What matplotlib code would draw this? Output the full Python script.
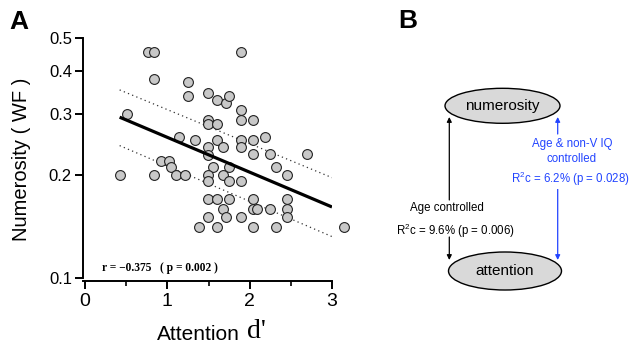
import matplotlib
matplotlib.use("Agg")
import matplotlib.pyplot as plt
from matplotlib.patches import Ellipse
from matplotlib.ticker import FixedLocator, NullLocator, MultipleLocator

plt.rcParams['font.family'] = ['Liberation Sans', 'DejaVu Sans']
plt.rcParams['mathtext.default'] = 'regular'

# ---- Panel A data ----
attention = [0.76, 0.84, 1.89, 0.84, 1.25, 1.25, 1.49, 1.60, 1.71, 1.75, 1.89, 0.51,
             1.49, 1.49, 1.60, 1.89, 2.04, 1.14, 1.34, 1.60, 1.89, 2.04, 2.19,
             1.49, 1.68, 1.89, 1.49, 2.04, 2.25, 2.70, 0.92, 1.02, 1.05, 1.56, 1.75, 2.32,
             0.42, 0.84, 1.11, 1.22, 1.49, 1.68, 2.45, 1.49, 1.75, 1.89,
             1.49, 1.60, 1.75, 2.04, 2.45, 1.68, 2.04, 2.09, 2.25, 2.45,
             1.49, 1.71, 1.89, 2.45, 1.38, 1.60, 2.04, 2.32, 3.15]
numerosity = [0.455, 0.455, 0.455, 0.38, 0.372, 0.339, 0.346, 0.331, 0.324, 0.339, 0.309, 0.301,
              0.289, 0.280, 0.281, 0.289, 0.289, 0.257, 0.252, 0.252, 0.252, 0.252, 0.257,
              0.241, 0.241, 0.241, 0.228, 0.230, 0.230, 0.230, 0.219, 0.219, 0.210, 0.210, 0.210, 0.210,
              0.200, 0.200, 0.200, 0.200, 0.200, 0.200, 0.200, 0.191, 0.191, 0.191,
              0.170, 0.170, 0.170, 0.170, 0.170, 0.159, 0.159, 0.159, 0.159, 0.159,
              0.151, 0.151, 0.151, 0.151, 0.141, 0.141, 0.141, 0.141, 0.141]
fit_x = [0.42, 3.0]
fit_y = [0.294, 0.161]
ci_upper_y = [0.353, 0.196]
ci_lower_y = [0.243, 0.132]
yticks = [0.1, 0.2, 0.3, 0.4, 0.5]
ytick_labels = ['0.1', '0.2', '0.3', '0.4', '0.5']
xticks = [0, 1, 2, 3]
stat_text = 'r = \u22120.375   ( p = 0.002 )'

# ---- Panel B texts ----
node_top = 'numerosity'
node_bottom = 'attention'
left_lines = ['Age controlled', 'R$^2$c = 9.6% (p = 0.006)']
right_lines = ['Age & non-V IQ', 'controlled', 'R$^2$c = 6.2% (p = 0.028)']

W, H = 632, 344
fig = plt.figure(figsize=(W / 100, H / 100), dpi=100)

# Panel A
ax = fig.add_axes([83 / W, 1 - 281 / H, 249 / W, 243 / H])
ax.set_yscale('log')
ax.set_xlim(-0.025, 3.0)
ax.set_ylim(0.098, 0.5)
ax.scatter(attention, numerosity, s=50, facecolor='#c8c8c8', edgecolor='#222222',
           linewidth=0.8, zorder=3, clip_on=False)
ax.plot(fit_x, fit_y, color='black', lw=2.3, zorder=4, solid_capstyle='butt')
ax.plot(fit_x, ci_upper_y, color='#333333', lw=0.9, ls=(0, (1, 2.6)), zorder=2)
ax.plot(fit_x, ci_lower_y, color='#333333', lw=0.9, ls=(0, (1, 2.6)), zorder=2)

for s in ['top', 'right']:
    ax.spines[s].set_visible(False)
for s in ['left', 'bottom']:
    ax.spines[s].set_linewidth(1.4)
ax.spines['left'].set_bounds(0.1, 0.5)
ax.yaxis.set_major_locator(FixedLocator(yticks))
ax.yaxis.set_minor_locator(NullLocator())
ax.set_yticklabels(ytick_labels)
ax.xaxis.set_major_locator(FixedLocator(xticks))
ax.xaxis.set_minor_locator(MultipleLocator(0.5))
ax.tick_params(axis='y', which='major', direction='out', length=6, width=1.4, labelsize=12, pad=2)
ax.tick_params(axis='x', which='major', direction='out', length=6, width=1.4, labelsize=14, pad=3)
ax.tick_params(axis='x', which='minor', direction='out', length=3.5, width=1.2)
ax.set_ylabel('Numerosity ( WF )', fontsize=14.5, labelpad=13)
fig.text(157 / W, 1 - 340 / H, 'Attention', fontsize=15, va='baseline', ha='left')
fig.text(247 / W, 1 - 338 / H, "d'", fontsize=20, family=['Liberation Serif'], va='baseline')
ax.text(102 / W, 1 - 271 / H, stat_text, transform=fig.transFigure, fontsize=8.3,
        family=['Liberation Serif', 'DejaVu Serif'], weight='bold', va='baseline')

fig.text(19 / W, 1 - 22 / H, 'A', fontsize=19, weight='bold', ha='center', va='center')
fig.text(408 / W, 1 - 21 / H, 'B', fontsize=19, weight='bold', ha='center', va='center')

# Panel B on pixel coordinates
bx = fig.add_axes([0, 0, 1, 1], zorder=-1)
bx.set_xlim(0, W)
bx.set_ylim(H, 0)
bx.axis('off')
bx.add_patch(Ellipse((502.5, 105.8), 115, 35, facecolor='#d9d9d9', edgecolor='black', lw=1))
bx.add_patch(Ellipse((505, 271), 113, 38, facecolor='#d9d9d9', edgecolor='black', lw=1))
bx.text(502.5, 106, node_top, fontsize=11, ha='center', va='center')
bx.text(505, 271, node_bottom, fontsize=11, ha='center', va='center')

blue = '#2244ff'
ap = dict(arrowstyle='-|>', lw=0.9, mutation_scale=7, shrinkA=0, shrinkB=0)
bx.annotate('', xy=(449.3, 117), xytext=(449.3, 200), arrowprops=dict(ap, color='black'))
bx.annotate('', xy=(449.3, 260), xytext=(449.3, 237), arrowprops=dict(ap, color='black'))
bx.annotate('', xy=(557.7, 117), xytext=(557.7, 134), arrowprops=dict(ap, color=blue))
bx.annotate('', xy=(557.7, 260), xytext=(557.7, 180), arrowprops=dict(ap, color=blue))

bx.text(446.7, 207.5, left_lines[0], fontsize=8.3, ha='center', va='center')
bx.text(396, 231, left_lines[1], fontsize=8.3, ha='left', va='center')
bx.text(572, 144, right_lines[0], fontsize=8.3, ha='center', va='center', color=blue)
bx.text(572, 159, right_lines[1], fontsize=8.3, ha='center', va='center', color=blue)
bx.text(511, 179, right_lines[2], fontsize=8.3, ha='left', va='center', color=blue,
        bbox=dict(facecolor='white', edgecolor='none', pad=0.5))

fig.savefig('out.png', dpi=100)
